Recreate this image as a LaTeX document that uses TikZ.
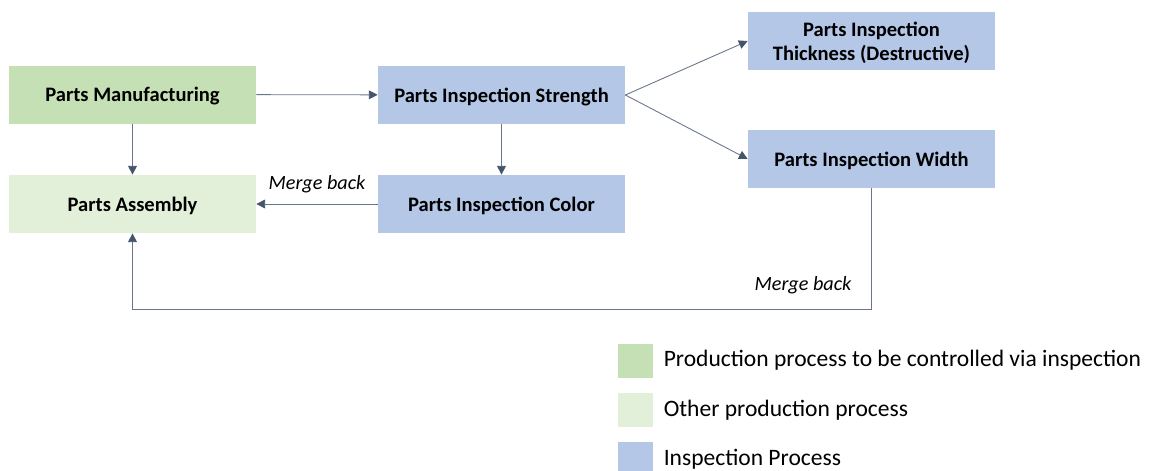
\documentclass[tikz,border=0pt]{standalone}
\usepackage{fontspec}
\setmainfont{Carlito}
\usepackage{xcolor}
\definecolor{green_prod}{HTML}{C5E0B4}
\definecolor{lightgreen_prod}{HTML}{E2F0D9}
\definecolor{blue_insp}{HTML}{B4C7E7}
\definecolor{slate_line}{HTML}{44546A}
\usepackage{tikz}
\usetikzlibrary{arrows.meta,positioning}

\begin{document}
\begin{tikzpicture}
[	x=0.02cm, y=-0.02cm,
	font=\fontsize{11.5}{13}\selectfont,
	process/.style={minimum width=247*0.02cm, minimum height=58*0.02cm, inner sep=0pt, align=center, text depth=-1.5pt, font=\fontsize{11.7}{13.5}\selectfont\bfseries},
	mainprod/.style={process, fill=green_prod},
	otherprod/.style={process, fill=lightgreen_prod},
	inspect/.style={process, fill=blue_insp},
	flow/.style={draw=slate_line!80, line width=0.5pt, -{Triangle[length=5pt,width=5pt,fill=slate_line,color=slate_line]}},
	legendbox/.style={minimum width=35*0.02cm, minimum height=34*0.02cm, inner sep=0pt},
	legendtext/.style={inner sep=0pt, font=\fontsize{13.4}{15}\selectfont},
	mergelabel/.style={font=\fontsize{11.5}{13}\selectfont\itshape, inner sep=0pt}
]
\useasboundingbox (0,0) rectangle (1149,470);

% process boxes
\node(manuf)[mainprod] at (132.5,94.5){Parts Manufacturing};
\node(assembly)[otherprod] at (132.5,204){Parts Assembly};
\node(strength)[inspect] at (501.5,95){Parts Inspection Strength};
\node(color)[inspect] at (501.5,204){Parts Inspection Color};
\node(thick)[inspect] at (871.5,41){Parts Inspection\\Thickness (Destructive)};
\node(width)[inspect] at (871.5,159){Parts Inspection Width};

% connectors
\draw[flow](manuf)--(strength);
\draw[flow](manuf)--(assembly);
\draw[flow](strength)--(color);
\draw[flow](color)--node[mergelabel, above=6pt]{Merge back}(assembly);
\draw[flow](strength.east)--(thick.west);
\draw[flow](strength.east)--(width.west);

% merge back from width
\coordinate(bendR) at (width.south |- 0,309);
\coordinate(bendL) at (assembly.south |- 0,309);
\draw[flow](width.south)--(bendR)--(bendL)--(assembly.south);
\node[mergelabel] at (803,285){Merge back};

% legend
\node(keymain)[legendbox, fill=green_prod] at (635,360.5){};
\node(keyother)[legendbox, fill=lightgreen_prod] at (635,410){};
\node(keyinsp)[legendbox, fill=blue_insp] at (635,459){};
\node(txtmain)[legendtext, right=6pt of keymain.east, anchor=west]{Production process to be controlled via inspection};
\node(txtother)[legendtext, right=6pt of keyother.east, anchor=west]{Other production process};
\node(txtinsp)[legendtext, right=6pt of keyinsp.east, anchor=west]{Inspection Process};

\end{tikzpicture}
\end{document}
